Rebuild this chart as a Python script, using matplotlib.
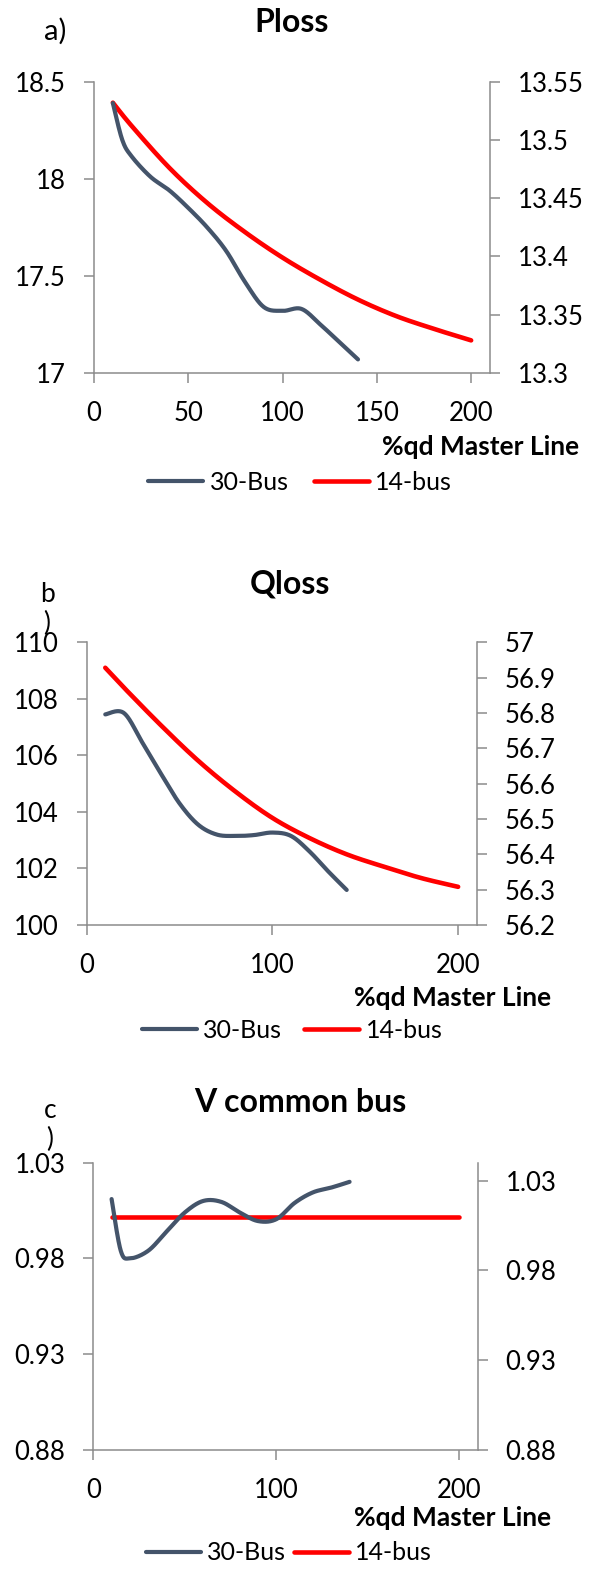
import matplotlib
matplotlib.use("Agg")
import matplotlib.pyplot as plt
import numpy as np
from matplotlib.ticker import FixedLocator, FuncFormatter

W, H = 594, 1569

plt.rcParams["font.family"] = ["Lato", "DejaVu Sans"]

BUS30_COLOR = "#44546A"
BUS14_COLOR = "#FF0000"
AXIS_GRAY = "#8C8C8C"
SERIES_NAMES = ["30-Bus", "14-bus"]
XLABEL = "%qd Master Line"

# ---- a) Ploss ----
ploss_x30 = [10, 15, 20, 30, 40, 50, 60, 70, 80, 90, 100, 110, 120, 130, 140]
ploss_y30 = [18.39, 18.20, 18.115, 18.01, 17.94, 17.85, 17.75, 17.63, 17.47,
             17.34, 17.32, 17.33, 17.25, 17.16, 17.07]
ploss_x14 = [10, 20, 40, 60, 80, 100, 120, 140, 160, 180, 200]
ploss_y14 = [13.532, 13.512, 13.476, 13.446, 13.421, 13.399, 13.380, 13.363,
             13.349, 13.338, 13.328]
ploss_left_ticks = [17, 17.5, 18, 18.5]
ploss_right_ticks = [13.3, 13.35, 13.4, 13.45, 13.5, 13.55]
ploss_x_ticks = [0, 50, 100, 150, 200]

# ---- b) Qloss ----
qloss_x30 = [10, 20, 30, 40, 50, 60, 70, 80, 90, 100, 110, 120, 130, 140]
qloss_y30 = [107.45, 107.50, 106.45, 105.35, 104.30, 103.55, 103.20, 103.15,
             103.18, 103.27, 103.15, 102.60, 101.90, 101.24]
qloss_x14 = [10, 20, 40, 60, 80, 100, 120, 140, 160, 180, 200]
qloss_y14 = [56.928, 56.872, 56.765, 56.665, 56.578, 56.503, 56.446, 56.400,
             56.365, 56.333, 56.308]
qloss_left_ticks = [100, 102, 104, 106, 108, 110]
qloss_right_ticks = [56.2, 56.3, 56.4, 56.5, 56.6, 56.7, 56.8, 56.9, 57.0]
qloss_x_ticks = [0, 100, 200]

# ---- c) V common bus ----
vbus_x30 = [10, 15, 20, 30, 40, 50, 60, 70, 80, 90, 100, 110, 120, 130, 140]
vbus_y30 = [1.011, 0.984, 0.980, 0.984, 0.994, 1.004, 1.010, 1.0095, 1.004,
            0.9995, 1.0005, 1.009, 1.0145, 1.017, 1.020]
vbus_x14 = [10, 50, 100, 150, 200]
vbus_y14 = [1.01, 1.01, 1.01, 1.01, 1.01]
vbus_left_ticks = [0.88, 0.93, 0.98, 1.03]
vbus_right_ticks = [0.88, 0.93, 0.98, 1.03]
vbus_x_ticks = [0, 100, 200]


def fx(px):
    return px / W


def fy(py):
    return 1 - py / H


def smooth(x, y, n=40):
    """Bezier smoothing through every point (Excel-style smoothed line)."""
    pts = np.column_stack([x, y]).astype(float)
    ext = np.vstack([pts[0], pts, pts[-1]])
    t = np.linspace(0, 1, n, endpoint=False)[:, None]
    segs = []
    for i in range(1, len(ext) - 2):
        p0, p1, p2, p3 = ext[i - 1], ext[i], ext[i + 1], ext[i + 2]
        c1 = p1 + (p2 - p0) / 6
        c2 = p2 - (p3 - p1) / 6
        segs.append((1 - t) ** 3 * p1 + 3 * (1 - t) ** 2 * t * c1
                    + 3 * (1 - t) * t ** 2 * c2 + t ** 3 * p2)
    segs.append(pts[-1:])
    out = np.vstack(segs)
    return out[:, 0], out[:, 1]


def num_label(v, _pos=None):
    return f"{round(v, 4):g}"


def style_axis(ax, side):
    for s in ax.spines.values():
        s.set_visible(False)
    ax.spines[side].set_visible(True)
    ax.spines[side].set_color(AXIS_GRAY)
    ax.spines[side].set_linewidth(1.1)
    if side == "left":
        ax.spines["bottom"].set_visible(True)
        ax.spines["bottom"].set_color(AXIS_GRAY)
        ax.spines["bottom"].set_linewidth(1.1)
    ax.tick_params(axis="both", which="both", direction="out", length=7,
                   width=1.1, color=AXIS_GRAY, labelsize=18.5, pad=13)


def panel(rect, x30, y30, x14, y14, ylim_l, ylim_r, lticks, rticks, xticks):
    ax = fig.add_axes(rect)
    ax2 = ax.twinx()
    ax.patch.set_visible(False)
    ax2.patch.set_visible(False)

    sx, sy = smooth(x30, y30)
    l30, = ax.plot(sx, sy, color=BUS30_COLOR, lw=3.0, solid_capstyle="round",
                   label=SERIES_NAMES[0], zorder=3)
    sx, sy = smooth(x14, y14)
    l14, = ax2.plot(sx, sy, color=BUS14_COLOR, lw=3.3, solid_capstyle="round",
                    label=SERIES_NAMES[1], zorder=3)

    ax.set_xlim(0, 210)
    ax.set_ylim(*ylim_l)
    ax2.set_ylim(*ylim_r)
    ax.xaxis.set_major_locator(FixedLocator(xticks))
    ax.yaxis.set_major_locator(FixedLocator(lticks))
    ax2.yaxis.set_major_locator(FixedLocator(rticks))
    ax.yaxis.set_major_formatter(FuncFormatter(num_label))
    ax2.yaxis.set_major_formatter(FuncFormatter(num_label))

    style_axis(ax, "left")
    style_axis(ax2, "right")
    ax.set_zorder(2)
    ax2.set_zorder(1)
    return ax, ax2, [l30, l14]


def rect_px(left, right, top, bottom):
    return [fx(left), fy(bottom), fx(right) - fx(left), fy(top) - fy(bottom)]


fig = plt.figure(figsize=(W / 100, H / 100), dpi=100)
fig.patch.set_facecolor("white")

panels = [
    dict(rect=rect_px(94, 490, 81.7, 373), data=(ploss_x30, ploss_y30, ploss_x14, ploss_y14),
         ylim_l=(17, 18.5), ylim_r=(13.3, 13.55),
         ticks=(ploss_left_ticks, ploss_right_ticks, ploss_x_ticks),
         title="Ploss", title_xy=(292, 22), tag="a)", tag_xy=(55, 31), tag_size=21,
         xlabel_xy=(579, 447), legend_xy=(300, 482), colsp=1.0),
    dict(rect=rect_px(86.7, 476.7, 642.3, 925), data=(qloss_x30, qloss_y30, qloss_x14, qloss_y14),
         ylim_l=(100, 110), ylim_r=(56.2, 57.0),
         ticks=(qloss_left_ticks, qloss_right_ticks, qloss_x_ticks),
         title="Qloss", title_xy=(290, 584), tag="b\n)", tag_xy=(47, 609), tag_size=19,
         xlabel_xy=(551, 998), legend_xy=(292, 1030), colsp=0.9),
    dict(rect=rect_px(93.3, 477.7, 1162.7, 1449.8), data=(vbus_x30, vbus_y30, vbus_x14, vbus_y14),
         ylim_l=(0.88, 1.03), ylim_r=(0.88, 1.04),
         ticks=(vbus_left_ticks, vbus_right_ticks, vbus_x_ticks),
         title="V common bus", title_xy=(300, 1102), tag="c\n)", tag_xy=(50, 1125), tag_size=19,
         xlabel_xy=(551, 1518), legend_xy=(289, 1553), colsp=0.3),
]

for p in panels:
    x30, y30, x14, y14 = p["data"]
    lt, rt, xt = p["ticks"]
    ax, ax2, handles = panel(p["rect"], x30, y30, x14, y14,
                             p["ylim_l"], p["ylim_r"], lt, rt, xt)
    fig.text(fx(p["title_xy"][0]), fy(p["title_xy"][1]), p["title"],
             ha="center", va="center", fontsize=23, fontweight="bold")
    fig.text(fx(p["tag_xy"][0]), fy(p["tag_xy"][1]), p["tag"],
             ha="center", va="center", fontsize=p["tag_size"], linespacing=1.2)
    fig.text(fx(p["xlabel_xy"][0]), fy(p["xlabel_xy"][1]), XLABEL,
             ha="right", va="center", fontsize=19, fontweight="bold")
    fig.legend(handles=handles, labels=SERIES_NAMES, loc="center",
               bbox_to_anchor=(fx(p["legend_xy"][0]), fy(p["legend_xy"][1])),
               ncol=2, frameon=False, fontsize=18, handlelength=2.2,
               handletextpad=0.25, columnspacing=p["colsp"], borderpad=0)

fig.savefig("out.png", dpi=100, facecolor="white")
